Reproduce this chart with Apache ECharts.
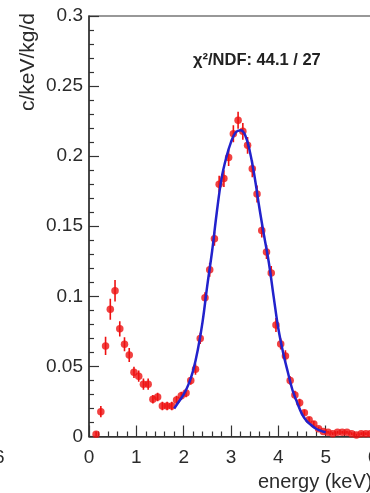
<!DOCTYPE html>
<html>
<head>
<meta charset="utf-8">
<script src="https://cdn.jsdelivr.net/npm/echarts@6/dist/echarts.min.js"></script>
<style>
html,body{margin:0;padding:0;background:#fff;}
#c{width:370px;height:493px;}
</style>
</head>
<body>
<div id="c"></div>
<script>
// Measured spectrum (bin centres, keV)
const energy = [0.15,0.25,0.35,0.45,0.55,0.65,0.75,0.85,0.95,1.05,1.15,1.25,1.35,1.45,1.55,1.65,1.75,1.85,1.95,2.05,2.15,2.25,2.35,2.45,2.55,2.65,2.75,2.85,2.95,3.05,3.15,3.25,3.35,3.45,3.55,3.65,3.75,3.85,3.95,4.05,4.15,4.25,4.35,4.45,4.55,4.65,4.75,4.85,4.95,5.05,5.15,5.25,5.35,5.45,5.55,5.65,5.75,5.85,5.95];
const rate = [0.0016,0.0177,0.0646,0.0908,0.104,0.0768,0.0658,0.0582,0.0458,0.043,0.0373,0.0373,0.0266,0.0282,0.0218,0.0218,0.0218,0.026,0.029,0.031,0.040,0.048,0.070,0.099,0.119,0.141,0.180,0.184,0.199,0.216,0.2256,0.2177,0.2077,0.191,0.173,0.147,0.1316,0.1166,0.0796,0.066,0.0575,0.040,0.0296,0.024,0.017,0.012,0.009,0.0055,0.0035,0.003,0.002,0.003,0.003,0.003,0.002,0.001,0.002,0.002,0.002];
const rateErr = [0.002,0.004,0.0065,0.0075,0.0077,0.0055,0.005,0.005,0.004,0.004,0.004,0.004,0.003,0.003,0.003,0.003,0.003,0.003,0.003,0.003,0.003,0.004,0.004,0.004,0.005,0.005,0.006,0.006,0.006,0.006,0.006,0.006,0.006,0.006,0.006,0.005,0.005,0.005,0.005,0.004,0.004,0.003,0.003,0.003,0.002,0.002,0.002,0.0015,0.001,0.001,0.001,0.001,0.001,0.001,0.001,0.001,0.001,0.001,0.001];
// Fit curve
const fitEnergy = [1.8,1.9,2.0,2.1,2.2,2.3,2.4,2.5,2.6,2.7,2.8,2.9,3.0,3.1,3.2,3.3,3.4,3.5,3.6,3.7,3.8,3.9,4.0,4.1,4.2,4.3,4.4,4.5,4.6,4.7,4.8,4.9,5.0];
const fitRate = [0.020,0.025,0.030,0.037,0.047,0.062,0.082,0.108,0.132,0.160,0.184,0.199,0.210,0.217,0.2185,0.215,0.203,0.185,0.163,0.143,0.124,0.100,0.077,0.060,0.046,0.033,0.024,0.016,0.011,0.008,0.0055,0.004,0.003];
const xTitle = 'energy (keV)';
const yTitle = 'c/keV/kg/d';
const fitLabel = 'χ²/NDF: 44.1 / 27';

const chart = echarts.init(document.getElementById('c'), null, {renderer:'canvas'});
const pts = energy.map((e,i)=>[e, rate[i], rateErr[i]]);
const fit = fitEnergy.map((e,i)=>[e, fitRate[i]]);
const font = 'Liberation Sans, Arial, sans-serif';
const axisCol = '#333';

chart.setOption({
  animation:false,
  backgroundColor:'#fff',
  grid:{left:89, top:16, width:284, height:420.5, containLabel:false, outerBoundsMode:'none', show:true, borderColor:axisCol, borderWidth:1.2, backgroundColor:'transparent'},
  xAxis:{
    type:'value', min:0, max:6, interval:1,
    axisLine:{show:true, onZero:false, lineStyle:{color:axisCol, width:1.5}},
    axisTick:{show:true, inside:true, length:11, lineStyle:{color:axisCol, width:1.2}},
    minorTick:{show:true, splitNumber:5, length:5, lineStyle:{color:axisCol, width:1.2}},
    splitLine:{show:false},
    axisLabel:{color:'#2b2b2b', fontSize:19, fontFamily:font, margin:12}
  },
  yAxis:{
    type:'value', min:0, max:0.3, interval:0.05,
    axisLine:{show:true, lineStyle:{color:axisCol, width:1.5}},
    axisTick:{show:true, inside:true, length:10, lineStyle:{color:axisCol, width:1.2}},
    minorTick:{show:true, splitNumber:5, length:5, lineStyle:{color:axisCol, width:1.2}},
    splitLine:{show:false},
    axisLabel:{color:'#2b2b2b', fontSize:19, fontFamily:font, margin:6}
  },
  graphic:[
    {type:'text', x:18, y:111, rotation:Math.PI/2, style:{text:yTitle, fill:'#2b2b2b', font:'21px '+font, textAlign:'left', textVerticalAlign:'top'}},
    {type:'text', x:258, y:472, style:{text:xTitle, fill:'#2b2b2b', font:'20px '+font, textAlign:'left', textVerticalAlign:'top'}},
    {type:'text', x:193, y:52, style:{text:fitLabel, fill:'#222', font:'bold 16.5px '+font, textAlign:'left', textVerticalAlign:'top'}},
    {type:'text', x:-6, y:448, style:{text:'6', fill:'#2b2b2b', font:'19px '+font, textAlign:'left', textVerticalAlign:'top'}}
  ],
  series:[
    {type:'custom', name:'err', data:pts, z:3,
     renderItem:function(params, api){
       const x=api.value(0), y=api.value(1), e=api.value(2);
       const p1=api.coord([x,y-e]), p2=api.coord([x,y+e]);
       return {type:'line', shape:{x1:p1[0],y1:p1[1],x2:p2[0],y2:p2[1]}, style:{stroke:'#ee1111', lineWidth:1.6}};
     }, clip:true},
    {type:'scatter', data:pts, symbol:'circle', symbolSize:7.5, itemStyle:{color:'#ee1111'}, z:4, clip:true},
    {type:'line', data:fit, smooth:0.4, showSymbol:false, lineStyle:{color:'#2222cc', width:2.5}, z:5}
  ]
});
</script>
</body>
</html>
